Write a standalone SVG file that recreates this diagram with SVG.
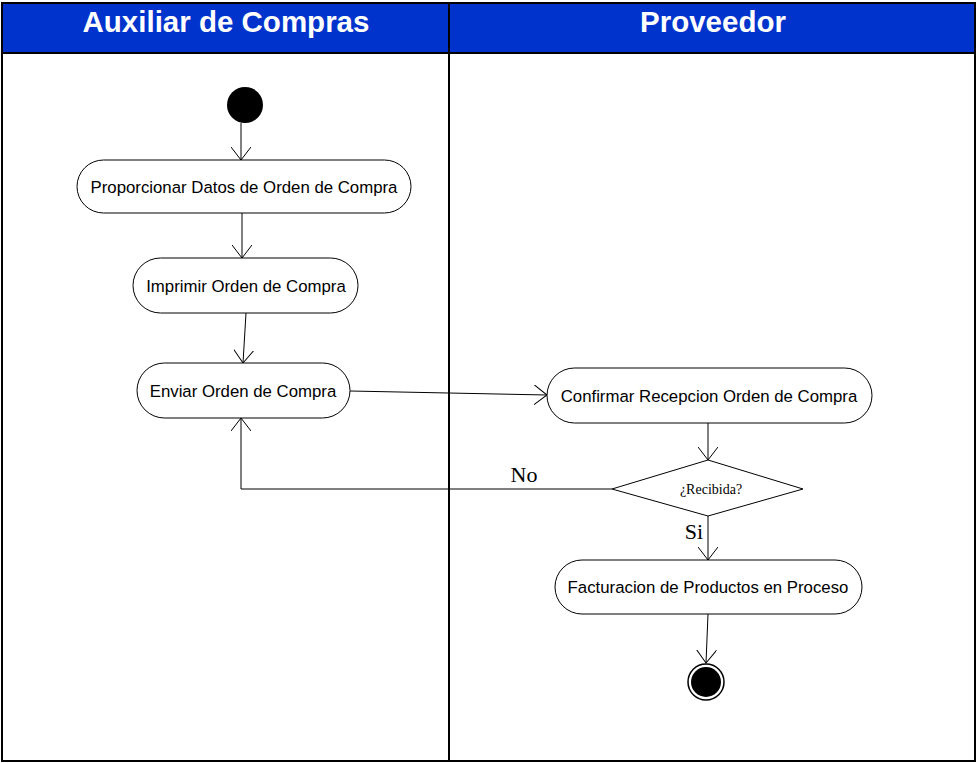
<svg xmlns="http://www.w3.org/2000/svg" width="977" height="763" viewBox="0 0 977 763">
<style>
.act{fill:#fff;stroke:#000;stroke-width:1}
.lbl{font-family:"Liberation Sans",Arial,sans-serif;font-size:16.8px;fill:#000;text-anchor:middle}
.ser{font-family:"Liberation Serif","Times New Roman",serif;fill:#000;text-anchor:middle}
.hd{font-family:"Liberation Sans",Arial,sans-serif;font-weight:bold;font-size:29.5px;fill:#fff;text-anchor:middle}
.ln{fill:none;stroke:#000;stroke-width:1}
</style>
<defs>
<marker id="open" viewBox="0 0 14 20" refX="13" refY="10" markerWidth="14" markerHeight="20" markerUnits="userSpaceOnUse" orient="auto">
<path d="M0,0 L13,10 L0,20" fill="none" stroke="#000" stroke-width="1"/>
</marker>
</defs>
<rect x="0" y="0" width="977" height="763" fill="#fff"/>
<g id="lanes">
<rect x="2" y="3" width="973" height="50" fill="#0033cc"/>
<rect x="2" y="3" width="973" height="758" fill="none" stroke="#000" stroke-width="2"/>
<line x1="2" y1="53" x2="975" y2="53" stroke="#000" stroke-width="2"/>
<line x1="449" y1="3" x2="449" y2="761" stroke="#000" stroke-width="2"/>
<text class="hd" x="226" y="32">Auxiliar de Compras</text>
<text class="hd" x="713" y="32">Proveedor</text>
</g>
<g id="connectors">
<line class="ln" x1="241" y1="123" x2="241" y2="160" marker-end="url(#open)"/>
<line class="ln" x1="242" y1="213" x2="242" y2="258" marker-end="url(#open)"/>
<line class="ln" x1="246" y1="313" x2="243" y2="363" marker-end="url(#open)"/>
<line class="ln" x1="350" y1="391" x2="547" y2="395" marker-end="url(#open)"/>
<line class="ln" x1="708" y1="423" x2="708" y2="460" marker-end="url(#open)"/>
<polyline class="ln" points="612,489 241,489 241,418" marker-end="url(#open)"/>
<text class="ser" x="524" y="482" font-size="22">No</text>
<line class="ln" x1="708" y1="516" x2="708" y2="560" marker-end="url(#open)"/>
<text class="ser" x="694" y="539" font-size="22">Si</text>
<line class="ln" x1="708" y1="614" x2="706" y2="663" marker-end="url(#open)"/>
</g>
<g id="start"><circle cx="245" cy="105" r="18" fill="#000"/></g>
<g id="n1"><rect class="act" x="77" y="160" width="334" height="53" rx="26.5"/><text class="lbl" x="244" y="193">Proporcionar Datos de Orden de Compra</text></g>
<g id="n2"><rect class="act" x="133" y="258" width="225" height="55" rx="27.5"/><text class="lbl" x="246" y="292">Imprimir Orden de Compra</text></g>
<g id="n3"><rect class="act" x="137" y="363" width="213" height="55" rx="27.5"/><text class="lbl" x="243" y="397">Enviar Orden de Compra</text></g>
<g id="n4"><rect class="act" x="547" y="368" width="325" height="55" rx="27.5"/><text class="lbl" x="709" y="402">Confirmar Recepcion Orden de Compra</text></g>
<g id="decision"><polygon class="act" points="708,460 803,489 708,516 612,489"/><text class="ser" x="711" y="494" font-size="14">¿Recibida?</text></g>
<g id="n5"><rect class="act" x="555" y="560" width="307" height="54" rx="27"/><text class="lbl" x="708" y="593">Facturacion de Productos en Proceso</text></g>
<g id="end"><circle cx="706" cy="682" r="18" fill="#fff" stroke="#000" stroke-width="1.5"/><circle cx="706" cy="682" r="15" fill="#000"/></g>
</svg>
